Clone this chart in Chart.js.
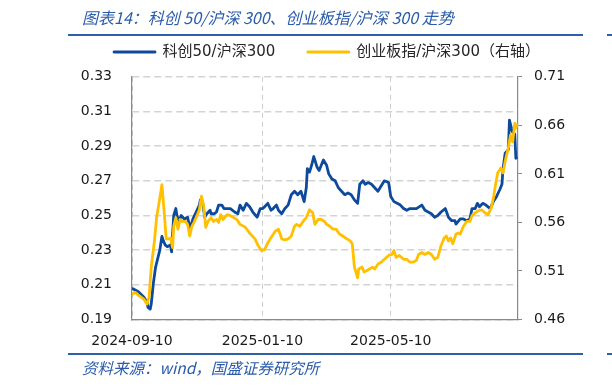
<!DOCTYPE html>
<html>
<head>
<meta charset="utf-8">
<script src="https://cdn.jsdelivr.net/npm/chart.js@4/dist/chart.umd.min.js"></script>
<style>
  body { margin: 0; background: #fff; }
  #wrap { position: relative; width: 612px; height: 386px; overflow: hidden; }
  #chart { position: absolute; left: 0; top: 0; }
  .note { position: absolute; left: 82px; font-style: italic; color: #2A5CAA; white-space: nowrap;
          font-family: "Noto Sans CJK SC", "DejaVu Sans", sans-serif; line-height: 20px; pointer-events: none; }
  .rule { position: absolute; height: 2px; background: #2F5FA7; }
</style>
</head>
<body>
<div id="wrap">
  <canvas id="chart" width="612" height="386"></canvas>
  <div class="note" style="top:7px; font-size:16px;">图表14：科创 50/沪深 300、创业板指/沪深 300 走势</div>
  <div class="rule" style="top:34px; left:68px; width:515px;"></div>
  <div class="rule" style="top:34px; left:607px; width:5px;"></div>
  <div class="rule" style="top:353px; left:68px; width:515px;"></div>
  <div class="rule" style="top:353px; left:607px; width:5px;"></div>
  <div class="note" style="top:357px; font-size:15.5px;">资料来源：wind，国盛证券研究所</div>
</div>
<script>
// x values are calendar days counted from startDate
const startDate = '2024-09-10';
const tickDates = ['2024-09-10', '2025-01-10', '2025-05-10'];
const lastDay = 361;
const leftTicks = [0.19, 0.21, 0.23, 0.25, 0.27, 0.29, 0.31, 0.33];
const rightTicks = [0.46, 0.51, 0.56, 0.61, 0.66, 0.71];

// 科创50/沪深300 (left axis)
const kcDays = [0, 6, 11, 14, 15, 17, 18, 20, 22, 26, 28, 29, 31, 33, 36, 37, 39, 41, 42, 44, 46, 49, 52, 54, 55, 57,
  60, 63, 64, 66, 68, 70, 73, 74, 77, 79, 81, 84, 86, 88, 92, 96, 99, 101, 104, 107, 110, 113, 117, 120, 122, 124,
  127, 130, 132, 135, 137, 140, 143, 146, 149, 152, 155, 158, 161, 163, 164, 166, 168, 170, 173, 175, 177, 179,
  182, 184, 187, 190, 193, 196, 199, 202, 205, 208, 211, 213, 216, 218, 221, 224, 227, 230, 234, 236, 240, 242,
  245, 248, 251, 254, 257, 260, 263, 266, 271, 274, 277, 280, 283, 286, 289, 293, 296, 299, 302, 303, 307, 310,
  313, 316, 318, 321, 323, 325, 328, 331, 335, 338, 341, 344, 346, 347, 349, 352, 353, 355, 356, 358, 359, 360];
const kcVals = [0.208, 0.206, 0.203, 0.200, 0.197, 0.196, 0.199, 0.211, 0.220, 0.230, 0.238, 0.236, 0.233, 0.232,
  0.233, 0.229, 0.250, 0.254, 0.250, 0.247, 0.250, 0.248, 0.249, 0.243, 0.244, 0.248,
  0.252, 0.256, 0.259, 0.258, 0.249, 0.251, 0.253, 0.251, 0.251, 0.252, 0.256, 0.256, 0.254, 0.254, 0.254, 0.252,
  0.251, 0.256, 0.253, 0.257, 0.255, 0.252, 0.249, 0.254, 0.254, 0.255,
  0.257, 0.253, 0.254, 0.256, 0.253, 0.251, 0.254, 0.256, 0.262, 0.264, 0.262, 0.264, 0.258, 0.266, 0.277, 0.275,
  0.279, 0.284, 0.278, 0.276, 0.279, 0.282,
  0.279, 0.274, 0.271, 0.270, 0.266, 0.264, 0.262, 0.263, 0.262, 0.259, 0.257, 0.268, 0.270, 0.268, 0.269, 0.268,
  0.266, 0.264, 0.268, 0.270, 0.269, 0.261,
  0.258, 0.257, 0.256, 0.254, 0.253, 0.254, 0.254, 0.254, 0.256, 0.253, 0.252, 0.251, 0.249, 0.250, 0.252, 0.254,
  0.249, 0.247, 0.247, 0.245, 0.248, 0.248,
  0.247, 0.248, 0.254, 0.254, 0.257, 0.255, 0.257, 0.256, 0.254, 0.258, 0.261, 0.265, 0.268, 0.277, 0.286, 0.288,
  0.305, 0.300, 0.298, 0.297, 0.283, 0.284];

// 创业板指/沪深300 (right axis)
const cyDays = [0, 3, 6, 11, 14, 16, 18, 21, 23, 26, 28, 30, 32, 34, 36, 38, 39, 41, 43, 45, 47, 50, 52, 54, 56, 58,
  60, 63, 65, 67, 69, 71, 74, 76, 79, 81, 83, 85, 89, 92, 98, 101, 106, 110, 115, 118, 121, 124, 127, 131, 134,
  137, 140, 143, 146, 149, 152, 154, 157, 160, 163, 166, 169, 171, 174, 177, 180, 182, 185, 188, 191, 194, 197,
  201, 204, 206, 208, 211, 212, 215, 217, 219, 222, 225, 227, 230, 233, 236, 240, 243, 245, 247, 250, 254, 257,
  260, 263, 266, 268, 271, 274, 277, 280, 283, 286, 289, 292, 294, 296, 298, 300, 303, 305, 307, 310, 313, 316,
  318, 321, 324, 327, 330, 333, 336, 338, 340, 342, 345, 347, 349, 352, 354, 356, 358, 359, 360];
const cyVals = [0.486, 0.488, 0.485, 0.481, 0.476, 0.483, 0.514, 0.541, 0.565, 0.585, 0.599, 0.572, 0.543, 0.543,
  0.544, 0.534, 0.556, 0.565, 0.553, 0.563, 0.561, 0.561, 0.558, 0.546, 0.556, 0.560,
  0.565, 0.573, 0.587, 0.577, 0.555, 0.561, 0.565, 0.561, 0.563, 0.560, 0.568, 0.563, 0.568, 0.567, 0.563, 0.558,
  0.555, 0.549, 0.543, 0.536, 0.531, 0.532, 0.539, 0.546, 0.551,
  0.553, 0.543, 0.542, 0.543, 0.546, 0.556, 0.558, 0.556, 0.561, 0.565, 0.573, 0.570, 0.558, 0.563, 0.563, 0.561,
  0.558, 0.556, 0.553, 0.553, 0.548, 0.546,
  0.543, 0.541, 0.538, 0.514, 0.503, 0.512, 0.514, 0.509, 0.510, 0.512, 0.514, 0.512, 0.517, 0.519, 0.522, 0.526,
  0.527, 0.531, 0.524, 0.526, 0.522, 0.522,
  0.519, 0.519, 0.521, 0.527, 0.529, 0.527, 0.529, 0.527, 0.522, 0.524, 0.536, 0.544, 0.546, 0.541, 0.544, 0.538,
  0.548, 0.549, 0.548, 0.556, 0.561, 0.561,
  0.567, 0.570, 0.572, 0.573, 0.570, 0.568, 0.575, 0.585, 0.599, 0.611, 0.616, 0.611, 0.623, 0.637, 0.650, 0.643,
  0.662, 0.657, 0.662];

const dayOf = s => (Date.parse(s) - Date.parse(startDate)) / 86400000;
const toPoints = (days, vals) => days.map((d, i) => ({ x: d, y: vals[i] }));

const axisFont = { family: 'DejaVu Sans', size: 14 };
const axisGray = '#898989';

// legend row height so the plot starts where the reference does
const legendHeight = {
  id: 'legendHeight',
  beforeInit(chart) {
    const fit = chart.legend.fit;
    chart.legend.fit = function () {
      fit.call(this);
      this.height = 64.8;
    };
  }
};

new Chart(document.getElementById('chart'), {
  type: 'line',
  data: {
    datasets: [
      {
        label: '科创50/沪深300',
        data: toPoints(kcDays, kcVals),
        yAxisID: 'y',
        borderColor: '#0E4A9C',
        backgroundColor: '#0E4A9C',
        borderWidth: 2.8,
        pointRadius: 0,
        borderJoinStyle: 'round',
        order: 2
      },
      {
        label: '创业板指/沪深300（右轴）',
        data: toPoints(cyDays, cyVals),
        yAxisID: 'y1',
        borderColor: '#FFC000',
        backgroundColor: '#FFC000',
        borderWidth: 2.8,
        pointRadius: 0,
        borderJoinStyle: 'round',
        order: 1
      }
    ]
  },
  options: {
    responsive: false,
    animation: false,
    layout: { padding: { top: 12, left: 42, right: 0, bottom: 0 } },
    plugins: {
      tooltip: { enabled: false },
      legend: {
        labels: {
          boxWidth: 41,
          boxHeight: 0,
          padding: 32.5,
          color: '#262626',
          font: { family: "'DejaVu Sans', 'Noto Sans CJK SC'", size: 15 },
          sort: (a, b) => a.datasetIndex - b.datasetIndex
        }
      }
    },
    scales: {
      x: {
        type: 'linear',
        min: 0,
        max: lastDay,
        afterBuildTicks: axis => { axis.ticks = tickDates.map(d => ({ value: dayOf(d) })); },
        afterFit: axis => { axis.height = 66.5; },
        ticks: {
          autoSkip: false,
          maxRotation: 0,
          padding: 13,
          color: '#1a1a1a',
          font: axisFont,
          callback: (v, i) => tickDates[i]
        },
        grid: { color: '#CCCCCC', lineWidth: 1, drawTicks: false },
        border: { color: axisGray, width: 1.2, dash: [5, 4] }
      },
      y: {
        position: 'left',
        min: 0.19,
        max: 0.33,
        afterBuildTicks: axis => { axis.ticks = leftTicks.map(v => ({ value: v })); },
        afterFit: axis => { axis.width = 90; },
        ticks: { padding: 20, color: '#1a1a1a', font: axisFont, callback: v => v.toFixed(2) },
        grid: { color: '#D3D3D3', lineWidth: 1.5, drawTicks: false },
        border: { color: axisGray, width: 1.2, dash: [7, 4] }
      },
      y1: {
        position: 'right',
        min: 0.46,
        max: 0.71,
        afterBuildTicks: axis => { axis.ticks = rightTicks.map(v => ({ value: v })); },
        afterFit: axis => { axis.width = 94; },
        ticks: { padding: 12, color: '#1a1a1a', font: axisFont, callback: v => v.toFixed(2) },
        grid: { drawOnChartArea: false, color: axisGray, tickLength: 4 },
        border: { color: axisGray, width: 1.2 }
      }
    }
  },
  plugins: [legendHeight]
});
</script>
</body>
</html>
